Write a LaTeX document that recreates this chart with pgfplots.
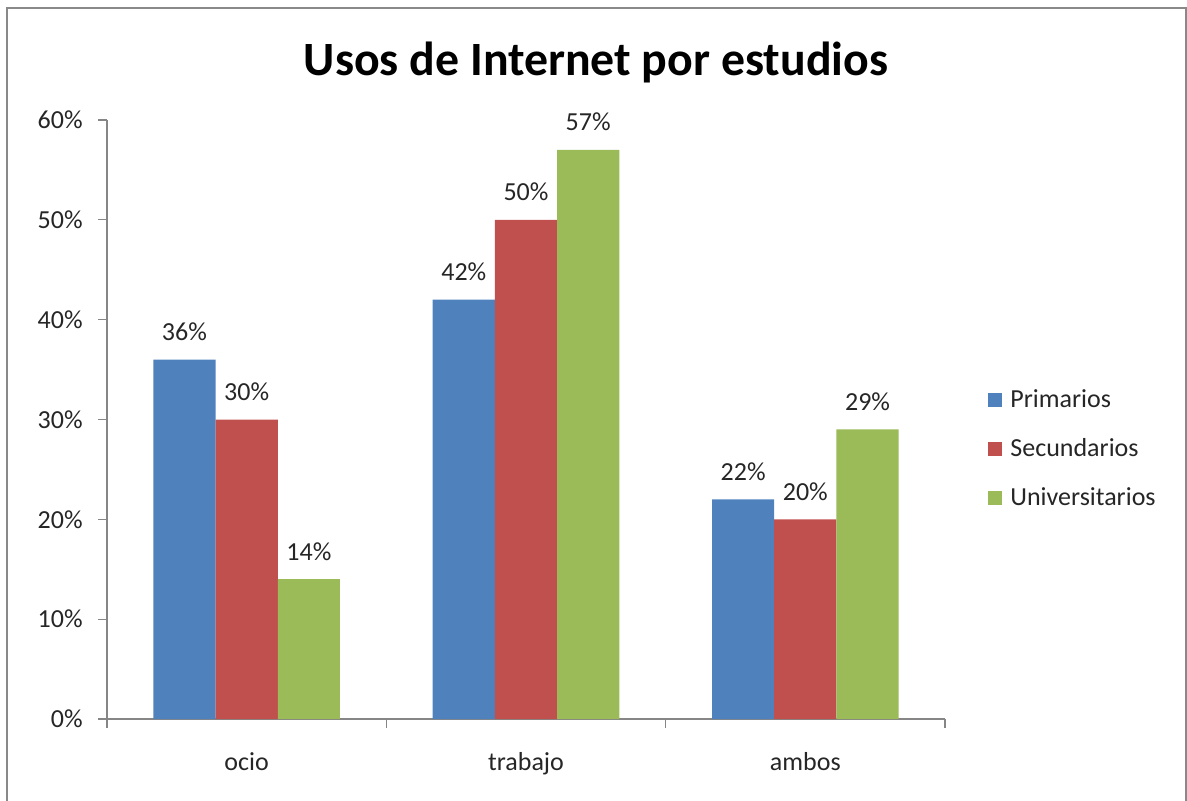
\documentclass[border=0pt]{standalone}
\usepackage{fontspec}
\setmainfont{Carlito}
\usepackage{pgfplots}
\pgfplotsset{compat=1.18}
\definecolor{cblue}{HTML}{4F81BD}
\definecolor{cred}{HTML}{C0504D}
\definecolor{cgreen}{HTML}{9BBB59}
\definecolor{axgray}{HTML}{868686}
\definecolor{framegray}{HTML}{898989}
\newcommand\lblfont{\fontsize{13}{15.6}\selectfont}
\begin{document}
\begin{tikzpicture}
% 1 px of the reference = 0.5pt
\path[use as bounding box] (0,0) rectangle (593.5pt,400pt);
\draw[framegray, line width=1pt] (3.5pt,-5pt) rectangle (592.75pt,395.75pt);
\begin{axis}[
    at={(53.5pt,40.5pt)}, anchor=south west,
    scale only axis, width=419pt, height=299.5pt,
    ybar=0pt, bar width=31.1pt,
    xmin=-0.5, xmax=2.5,
    ymin=0, ymax=60,
    axis lines*=left,
    axis line style={axgray, line width=0.6pt},
    tick align=outside,
    tick style={axgray, line width=0.6pt},
    major tick length=4.5pt,
    xtick={-0.5,0.5,1.5,2.5},
    xticklabels={},
    extra x ticks={0,1,2},
    extra x tick labels={ocio,trabajo,ambos},
    extra x tick style={major tick length=0pt},
    ytick={0,10,...,60},
    yticklabel={\pgfmathprintnumber{\tick}\%},
    /pgf/number format/assume math mode=true,
    ticklabel style={font=\lblfont, text=black!85},
    yticklabel style={inner sep=0pt, xshift=-7.5pt},
    xticklabel style={anchor=base, inner sep=0pt, yshift=-25.5pt},
    nodes near coords={\pgfmathprintnumber{\pgfplotspointmeta}\%},
    nodes near coords style={font=\lblfont, text=black!85, anchor=base, inner sep=0pt, yshift=9.5pt},
    title={Usos de Internet por estudios},
    title style={font=\fontsize{23.9}{28}\selectfont\bfseries, at={(axis description cs:0.5835,1.0551)},
        anchor=base, inner sep=0pt},
    legend style={at={(axis description cs:1.0513,0.4499)}, anchor=west, draw=none, fill=none,
        inner sep=0pt, font=\lblfont, row sep=13pt,
        nodes={inner ysep=0pt, inner xsep=4pt, text height=9pt, text depth=2.5pt, text=black!85}},
    legend cell align=left,
    legend image code/.code={\fill[#1] (0pt,-3.25pt) rectangle (7pt,3.75pt);},
]
\addplot[fill=cblue, draw=none] coordinates {(0,36) (1,42) (2,22)};
\addplot[fill=cred, draw=none] coordinates {(0,30) (1,50) (2,20)};
\addplot[fill=cgreen, draw=none] coordinates {(0,14) (1,57) (2,29)};
\legend{Primarios,Secundarios,Universitarios}
\end{axis}
\end{tikzpicture}
\end{document}
